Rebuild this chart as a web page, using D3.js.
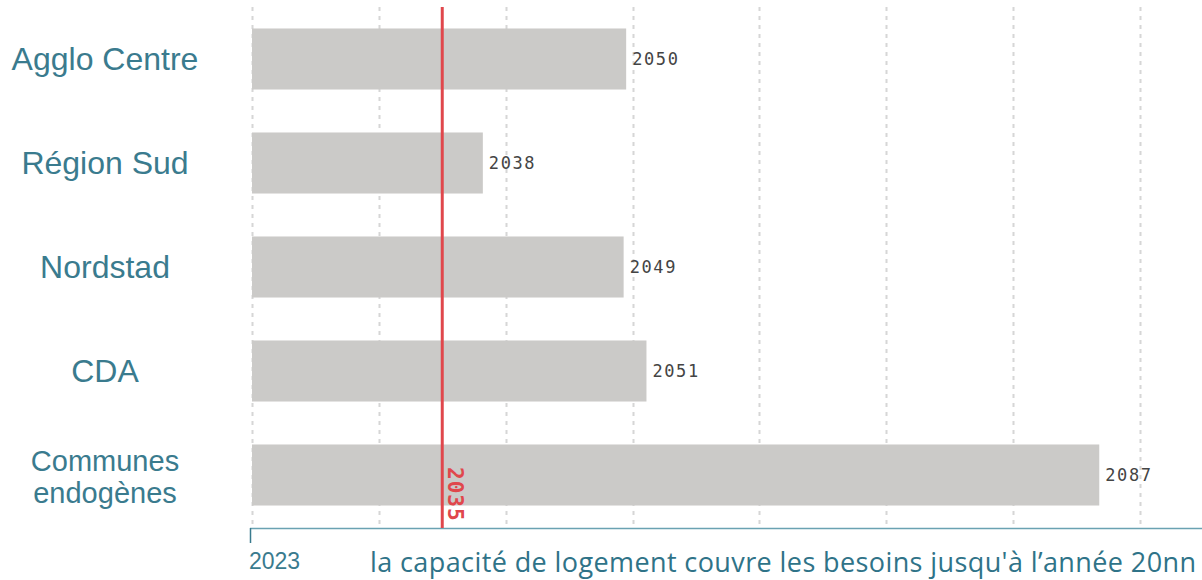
<!DOCTYPE html>
<html lang="fr">
<head>
    <meta charset="UTF-8" />
    <title>Capacité de logement</title>
    <script src="https://d3js.org/d3.v7.min.js"></script>
    <style>
        body { margin: 0; background: #fff; }
        .cat { font-family: "Liberation Sans", Arial, sans-serif; font-size: 32px; fill: #3a7b8e; }
        .cat.multi { font-size: 29px; }
        .val { font-family: "DejaVu Sans Mono", monospace; font-size: 17px; fill: #444; letter-spacing: 1.6px; }
        .ref { font-family: "DejaVu Sans Mono", monospace; font-size: 21px; font-weight: bold; fill: #e0474c; letter-spacing: 1px; }
        .start { font-family: "Liberation Sans", Arial, sans-serif; font-size: 23px; fill: #3a7b8e; }
        .caption { font-family: "Open Sans", sans-serif; font-size: 27px; fill: #2f7388; }
    </style>
</head>
<body>
    <script>
        // données
        const categories = ["Agglo Centre", "Région Sud", "Nordstad", "CDA", "Communes endogènes"];
        const values = [2049.5, 2038.2, 2049.3, 2051.1, 2086.8];
        const refYear = 2035;
        const axisStart = 2020;
        const axisEnd = 2094.9;
        const startLabel = "2023";
        const caption = "la capacité de logement couvre les besoins jusqu'à l’année 20nn";

        const width = 1202;
        const height = 580;

        const svg = d3.select("body")
            .append("svg")
            .attr("width", width)
            .attr("height", height);

        const x = d3.scaleLinear()
            .domain([axisStart, axisEnd])
            .range([252, 1202]);

        const y = d3.scaleBand()
            .domain(categories)
            .range([7, 527])
            .paddingInner(0.413)
            .paddingOuter(0.2065);

        const plotTop = 7, plotBottom = 528;

        // grille verticale
        svg.append("g")
            .selectAll("line")
            .data(x.ticks(8))
            .join("line")
            .attr("x1", d => Math.round(x(d)) + 0.5)
            .attr("x2", d => Math.round(x(d)) + 0.5)
            .attr("y1", plotTop)
            .attr("y2", plotBottom)
            .attr("stroke", "#d6d6d6")
            .attr("stroke-width", 2)
            .attr("stroke-dasharray", "4,5");

        // barres
        svg.append("g")
            .selectAll("rect")
            .data(values)
            .join("rect")
            .attr("x", x(axisStart))
            .attr("y", (d, i) => y(categories[i]))
            .attr("width", d => x(d) - x(axisStart))
            .attr("height", y.bandwidth())
            .attr("fill", "#cbcac8");

        // valeurs
        svg.append("g")
            .selectAll("text")
            .data(values)
            .join("text")
            .attr("class", "val")
            .attr("x", d => x(d) + 6)
            .attr("y", (d, i) => y(categories[i]) + y.bandwidth() / 2)
            .attr("dy", "0.35em")
            .text(d => d3.format("d")(d));

        // libellés des catégories
        const labels = svg.append("g")
            .selectAll("text")
            .data(categories)
            .join("text")
            .attr("class", d => d === "Communes endogènes" ? "cat multi" : "cat")
            .attr("text-anchor", "middle")
            .attr("y", d => y(d) + y.bandwidth() / 2);

        labels.each(function(d) {
            const words = d === "Communes endogènes" ? d.split(" ") : [d];
            const t = d3.select(this);
            words.forEach((w, k) => {
                t.append("tspan")
                    .attr("x", 105)
                    .attr("dy", k === 0 ? (words.length > 1 ? "-0.15em" : "0.35em") : "1.12em")
                    .text(w);
            });
        });

        // axe
        svg.append("line")
            .attr("x1", x(axisStart) - 2)
            .attr("x2", width)
            .attr("y1", plotBottom + 0.5)
            .attr("y2", plotBottom + 0.5)
            .attr("stroke", "#6aa2b2")
            .attr("stroke-width", 1.5);

        svg.append("line")
            .attr("x1", x(axisStart) - 1.5)
            .attr("x2", x(axisStart) - 1.5)
            .attr("y1", plotBottom)
            .attr("y2", plotBottom + 15)
            .attr("stroke", "#3a7b8e")
            .attr("stroke-width", 1.5);

        svg.append("text")
            .attr("class", "start")
            .attr("x", x(axisStart) - 3)
            .attr("y", 569)
            .text(startLabel);

        // ligne de référence
        svg.append("line")
            .attr("x1", x(refYear))
            .attr("x2", x(refYear))
            .attr("y1", plotTop)
            .attr("y2", plotBottom)
            .attr("stroke", "#e0474c")
            .attr("stroke-width", 3);

        svg.append("text")
            .attr("class", "ref")
            .attr("transform", `translate(${x(refYear) + 6}, 467) rotate(90)`)
            .text(refYear);

        // légende du bas
        svg.append("text")
            .attr("class", "caption")
            .attr("x", 370)
            .attr("y", 572)
            .attr("textLength", 826)
            .attr("lengthAdjust", "spacing")
            .text(caption);
    </script>
</body>
</html>
